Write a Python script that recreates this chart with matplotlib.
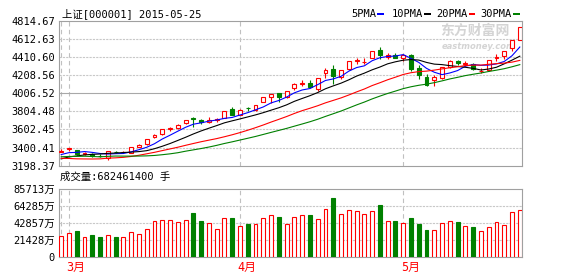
import matplotlib
matplotlib.use("Agg")
import matplotlib.pyplot as plt
import numpy as np
from matplotlib.patches import Rectangle
from matplotlib.transforms import blended_transform_factory

plt.rcParams["font.family"] = ["DejaVu Sans Mono", "Noto Sans CJK SC"]

# 上证指数 daily bars, 2015-02-27 .. 2015-05-25 (60 sessions)
opens = [3297.47, 3332.72, 3317.70, 3264.18, 3264.08, 3248.04, 3224.30, 3289.08, 3289.26, 3285.75,
         3359.04, 3391.16, 3469.63, 3510.50, 3576.52, 3586.77, 3640.10, 3702.00, 3680.16, 3654.84,
         3687.45, 3710.64, 3822.47, 3748.34, 3827.27, 3803.08, 3899.94, 3963.56, 4007.50, 3959.18,
         4072.72, 4125.22, 4135.65, 4054.71, 4254.24, 4301.35, 4212.20, 4304.36, 4406.97, 4385.55,
         4441.63, 4536.10, 4452.06, 4481.45, 4441.34, 4479.85, 4311.88, 4209.97, 4167.00, 4200.00,
         4333.00, 4397.81, 4368.00, 4360.08, 4275.00, 4290.00, 4436.00, 4460.00, 4565.00, 4660.08]
highs = [3324.55, 3336.76, 3317.70, 3286.59, 3275.19, 3266.93, 3307.72, 3309.92, 3309.42, 3355.37,
         3384.45, 3449.45, 3507.19, 3577.66, 3600.68, 3632.34, 3688.25, 3715.87, 3693.09, 3716.36,
         3710.40, 3795.94, 3835.57, 3817.08, 3835.82, 3866.74, 3961.38, 4000.00, 4016.33, 4034.31,
         4128.07, 4168.35, 4175.49, 4194.82, 4317.05, 4356.97, 4293.62, 4398.49, 4444.41, 4433.13,
         4529.78, 4572.39, 4499.96, 4504.92, 4488.05, 4488.20, 4358.26, 4247.38, 4225.48, 4333.58,
         4415.00, 4418.59, 4400.81, 4378.28, 4311.45, 4418.44, 4493.17, 4529.73, 4657.85, 4814.67]
lows = [3291.19, 3298.67, 3260.43, 3250.48, 3229.97, 3234.73, 3198.37, 3279.08, 3276.03, 3285.75,
        3351.78, 3377.97, 3459.90, 3503.85, 3546.84, 3576.97, 3635.59, 3600.68, 3636.18, 3645.94,
        3657.61, 3710.63, 3742.33, 3742.21, 3792.99, 3787.17, 3899.42, 3886.39, 3907.19, 3945.98,
        4048.66, 4091.46, 4069.00, 4041.46, 4200.76, 4122.46, 4180.26, 4288.05, 4367.74, 4362.61,
        4432.89, 4432.44, 4432.56, 4432.96, 4404.45, 4282.64, 4187.04, 4099.15, 4099.00, 4180.00,
        4317.00, 4347.88, 4342.73, 4295.39, 4260.31, 4285.09, 4400.00, 4424.29, 4520.72, 4656.41]
closes = [3310.30, 3336.28, 3263.05, 3279.53, 3248.48, 3241.19, 3302.41, 3286.07, 3290.90, 3349.32,
          3372.91, 3449.30, 3502.85, 3577.30, 3582.27, 3617.32, 3687.73, 3691.41, 3660.73, 3682.09,
          3691.10, 3786.57, 3747.90, 3810.29, 3825.78, 3863.93, 3961.38, 3994.81, 3957.53, 4034.31,
          4121.71, 4135.57, 4084.16, 4194.82, 4287.30, 4217.08, 4293.62, 4398.49, 4414.51, 4393.69,
          4527.40, 4476.62, 4476.21, 4441.66, 4480.46, 4298.71, 4229.27, 4112.21, 4205.92, 4333.58,
          4401.22, 4375.76, 4378.31, 4308.69, 4283.49, 4417.55, 4446.29, 4529.42, 4657.60, 4813.80]
ma5 = [3261.31, 3284.14, 3287.37, 3297.50, 3287.53, 3273.71, 3266.93, 3271.54, 3273.81, 3293.98,
       3320.32, 3349.70, 3393.06, 3450.34, 3496.93, 3545.81, 3593.49, 3631.21, 3647.89, 3667.86,
       3682.61, 3702.38, 3713.68, 3743.59, 3772.33, 3806.89, 3841.86, 3891.24, 3920.69, 3962.39,
       4013.95, 4048.79, 4066.66, 4114.11, 4164.71, 4183.79, 4215.40, 4278.26, 4322.20, 4343.48,
       4405.54, 4442.14, 4457.69, 4463.12, 4480.47, 4434.73, 4385.26, 4312.46, 4265.31, 4235.94,
       4256.44, 4285.74, 4338.96, 4359.51, 4349.49, 4352.76, 4366.87, 4397.09, 4466.87, 4572.93]
ma10 = [3207.82, 3231.94, 3244.09, 3256.27, 3263.77, 3267.51, 3275.54, 3279.45, 3285.66, 3290.75,
        3297.01, 3308.32, 3332.30, 3362.07, 3395.45, 3433.07, 3471.60, 3512.13, 3549.11, 3582.39,
        3614.21, 3647.94, 3672.44, 3695.74, 3720.09, 3744.75, 3772.12, 3802.46, 3832.14, 3867.36,
        3910.42, 3945.32, 3978.95, 4017.40, 4063.55, 4098.87, 4132.09, 4172.46, 4218.16, 4254.10,
        4294.66, 4328.77, 4367.97, 4392.66, 4411.97, 4420.14, 4413.70, 4385.07, 4364.22, 4358.20,
        4345.59, 4335.50, 4325.71, 4312.41, 4292.72, 4304.60, 4326.30, 4368.02, 4413.19, 4461.21]
ma20 = [3215.63, 3213.28, 3208.79, 3207.48, 3206.79, 3208.33, 3217.03, 3221.09, 3226.93, 3237.57,
        3252.42, 3270.13, 3288.19, 3309.17, 3329.61, 3350.29, 3373.57, 3395.79, 3417.39, 3436.57,
        3455.61, 3478.13, 3502.37, 3528.91, 3557.77, 3588.91, 3621.86, 3657.29, 3690.63, 3724.88,
        3762.32, 3796.63, 3825.69, 3856.57, 3891.82, 3921.81, 3952.10, 3987.46, 4025.15, 4060.73,
        4102.54, 4137.05, 4173.46, 4205.03, 4237.76, 4259.50, 4272.90, 4278.77, 4291.19, 4306.15,
        4320.13, 4332.13, 4346.84, 4352.54, 4352.35, 4362.37, 4370.00, 4376.55, 4388.70, 4409.71]
ma30 = [3234.02, 3237.59, 3238.51, 3240.42, 3237.48, 3232.97, 3239.18, 3242.94, 3241.85, 3242.05,
        3242.76, 3244.96, 3249.96, 3259.01, 3269.67, 3283.24, 3301.89, 3318.10, 3334.32, 3352.51,
        3373.02, 3396.06, 3416.27, 3438.03, 3459.77, 3481.78, 3506.42, 3531.35, 3555.64, 3580.17,
        3607.22, 3633.86, 3661.23, 3691.74, 3726.37, 3758.90, 3791.94, 3829.02, 3866.47, 3901.28,
        3939.77, 3974.01, 4006.45, 4035.27, 4065.21, 4087.92, 4105.97, 4119.99, 4138.17, 4159.89,
        4183.56, 4203.20, 4224.21, 4240.82, 4256.08, 4274.53, 4290.70, 4308.52, 4331.85, 4357.84]
# 成交量, 万手
volume = [29780, 34160, 37520, 28320, 31680, 28760, 31240, 28760, 28320, 35620,
          32700, 40440, 51680, 53140, 53140, 50220, 53140, 63800, 52120, 48760,
          40440, 56060, 56500, 44380, 47740, 47300, 56060, 60440, 57960, 47300,
          57520, 60440, 60880, 54600, 69200, 85713, 61900, 67740, 66280, 61900,
          66280, 75480, 51680, 52120, 48760, 56500, 47740, 38980, 38980, 48760,
          52120, 50660, 44380, 43360, 37080, 42920, 50220, 45840, 64820, 68246]
price_labels = ["3198.37", "3400.41", "3602.45", "3804.48", "4006.52",
                "4208.56", "4410.60", "4612.63", "4814.67"]
vol_labels = ["0", "21428万", "42857万", "64285万", "85713万"]
month_lines = [0, 1, 23, 44]
month_label_idx = [1, 23, 44]
month_label_txt = ["3月", "4月", "5月"]

RED, GREEN, BLUE = "#ff0000", "#008000", "#0000ff"
W, H = 578, 276


def fx(x):
    return x / W


def fy(y):
    return 1 - y / H


fig = plt.figure(figsize=(W / 100, H / 100), dpi=100)
ax = fig.add_axes([fx(58.7), fy(165.7), (522.3 - 58.7) / W, (165.7 - 20.7) / H])
axv = fig.add_axes([fx(58.7), fy(256.7), (522.3 - 58.7) / W, (256.7 - 189.3) / H])

x = np.arange(len(closes))
o, h, l, c = map(np.array, (opens, highs, lows, closes))
up = c >= o
col = np.where(up, RED, GREEN)

for a in (ax, axv):
    a.set_xlim(-0.32, len(x) - 1 + 0.32)
    a.set_xticks([])
    for s in a.spines.values():
        s.set_color("#a0a0a0"); s.set_linewidth(0.8)
    a.tick_params(axis="y", length=0, pad=2.8, labelsize=7.5)
    for i in month_lines:
        a.axvline(i, color="#c0c0c0", lw=0.8, ls=(0, (4, 3)), zorder=1)

# price panel: labels are spread over the full frame, data sits a few px inside
ymin, ymax = 3125, 4894
ax.set_ylim(ymin, ymax)
yt = np.linspace(ymin, ymax, 9)
ax.set_yticks(yt)
ax.set_yticklabels(price_labels)
for k in range(1, 8):
    if k == 4:
        ax.axhline(yt[k], color="#a8a8a8", lw=0.8, zorder=1)
    else:
        ax.axhline(yt[k], color="#c8c8c8", lw=0.8, ls=(0, (2, 1)), zorder=1)

ax.vlines(x, l, h, colors=col, lw=0.8, zorder=3)
ax.bar(x, np.abs(c - o), bottom=np.minimum(o, c), width=0.5,
       facecolor=np.where(up, "white", GREEN), edgecolor=col, lw=0.8, zorder=4)
for ma, color in ((ma5, BLUE), (ma10, "black"), (ma20, RED), (ma30, GREEN)):
    ax.plot(x, ma, color=color, lw=0.8, zorder=5)

# volume panel
vtop = 98420
axv.set_ylim(0, vtop)
vt = np.linspace(0, vtop, 5)
axv.set_yticks(vt)
axv.set_yticklabels(vol_labels)
for k in range(1, 4):
    axv.axhline(vt[k], color="#c8c8c8", lw=0.8, ls=(0, (2, 1)), zorder=1)
axv.bar(x, volume, width=0.5, facecolor=np.where(up, "white", GREEN),
        edgecolor=col, lw=0.8, zorder=3)

tr = blended_transform_factory(axv.transData, fig.transFigure)
for i, t in zip(month_label_idx, month_label_txt):
    axv.text(i - 0.3, fy(267), t, transform=tr, ha="left", va="center",
             fontsize=8.5, color=RED, clip_on=False)

# watermark behind the candles
ax.text(fx(440), fy(31), "东方财富网", transform=fig.transFigure, fontsize=10,
        fontweight="bold", color="#d4d4d4", family="Noto Sans CJK SC", va="center", zorder=0.5)
ax.text(fx(442), fy(46.5), "eastmoney.com", transform=fig.transFigure, fontsize=6,
        fontweight="bold", style="italic", color="#d4d4d4", family="DejaVu Sans",
        va="center", zorder=0.5)

# header and legend
fig.text(fx(62), fy(14), "上证[000001] 2015-05-25", fontsize=7.5, va="center")
fig.text(fx(60), fy(177), "成交量:682461400 手", fontsize=7.5, va="center")
legend = [("5PMA", BLUE, 351.3), ("10PMA", "black", 392), ("20PMA", RED, 436.3), ("30PMA", GREEN, 480.7)]
for name, color, x0 in legend:
    fig.text(fx(x0), fy(14), name, fontsize=7.5, va="center")
    w = len(name) * 6.27
    fig.add_artist(Rectangle((fx(x0 + w + 1), fy(15.3)), 6.5 / W, 2.6 / H,
                             transform=fig.transFigure, color=color, lw=0))

fig.savefig("out.png", dpi=100)
